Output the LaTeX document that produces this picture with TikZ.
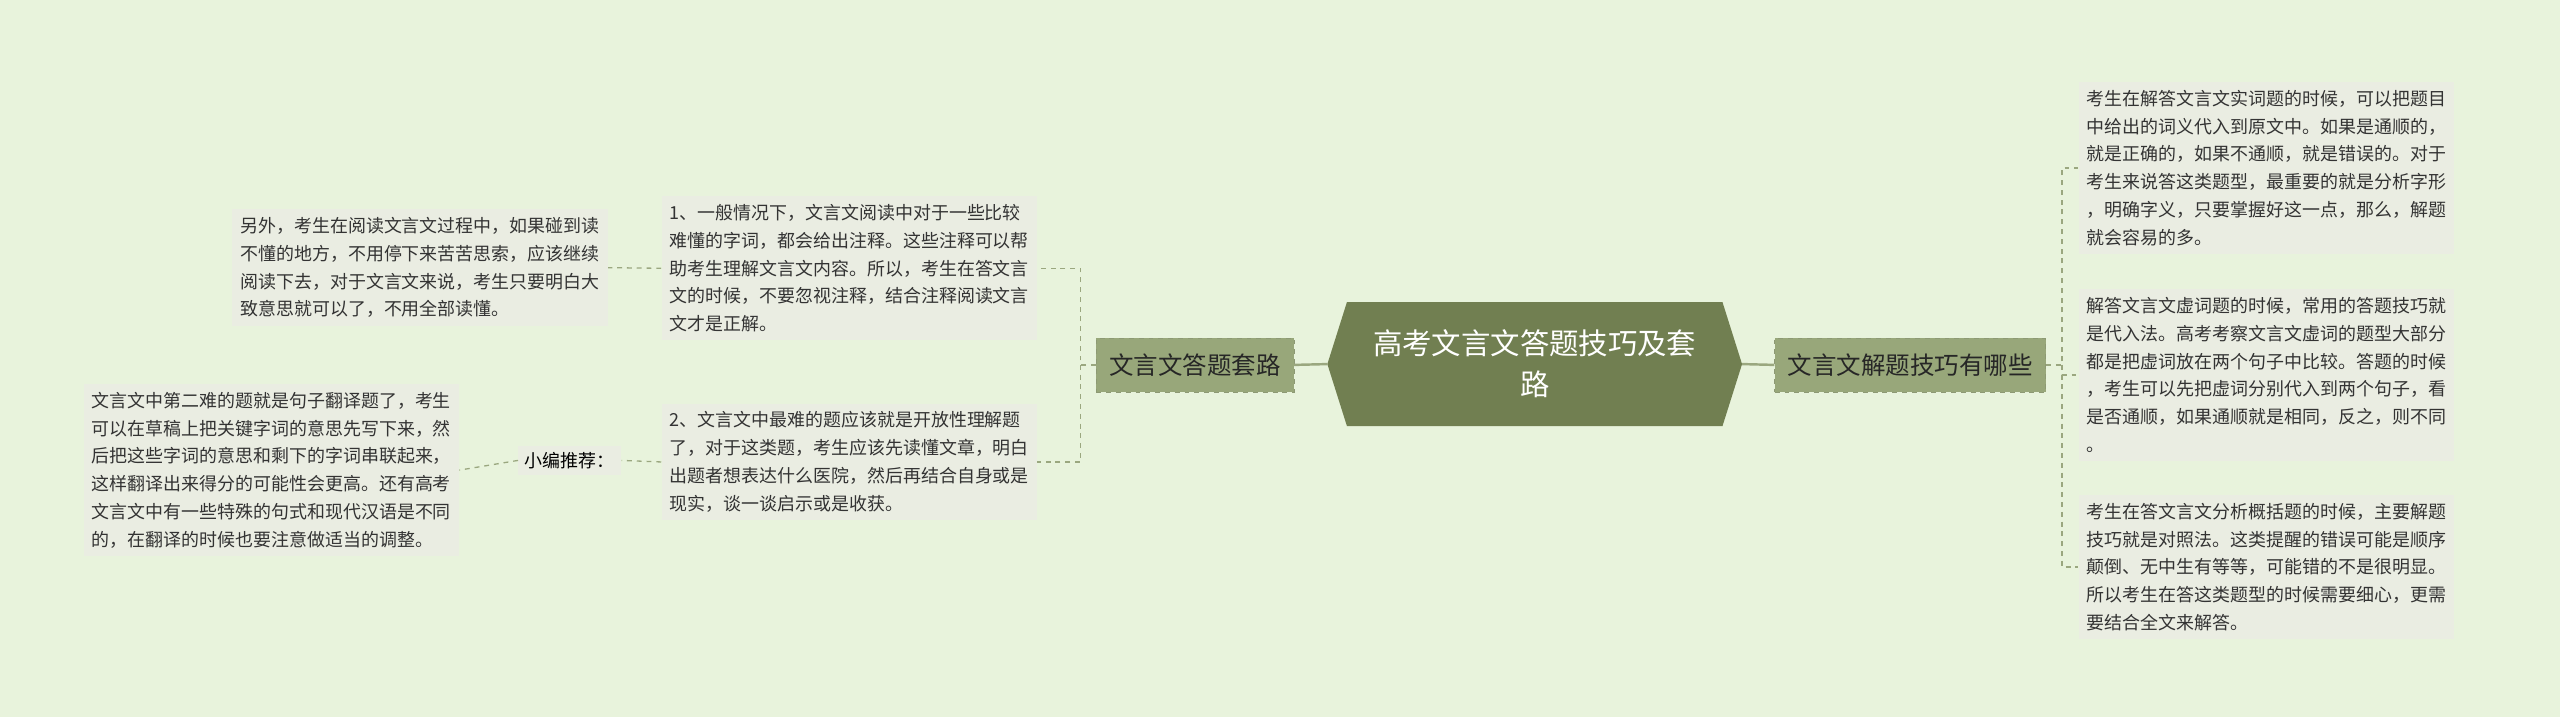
\documentclass[tikz,border=0pt]{standalone}
\usepackage{fontspec}
\setmainfont{Noto Sans CJK SC}
\usetikzlibrary{shapes.geometric}
\definecolor{bg}{HTML}{E8F3DC}
\definecolor{main}{HTML}{717F51}
\definecolor{sub}{HTML}{98A77A}
\definecolor{leaf}{HTML}{EAEDE2}
\definecolor{ln}{HTML}{9AA77F}
\tikzset{
 leafbox/.style={fill=leaf,inner sep=5pt,align=left,font=\fontsize{11}{17}\selectfont,text=black!80,anchor=north west},
 subbox/.style={fill=sub,draw=main!80,dashed,inner xsep=8pt,minimum height=33pt,font=\fontsize{15}{17}\selectfont,text=black!85},
 conn/.style={draw=ln,line width=0.8pt,dashed},
}
\begin{document}
\begin{tikzpicture}[x=1pt,y=-1pt]
\fill[bg] (0,0) rectangle (1568,439);
\useasboundingbox (0,0) rectangle (1568,439);
\fill[main] (825,185) -- (1055,185) -- (1067,223) -- (1055,261) -- (825,261) -- (813,223) -- cycle;
\node[font=\fontsize{18}{25}\selectfont,text=white,align=center] (c) at (940,223) {高考文言文答题技巧及套\\路};
\coordinate (cl) at (813,223); \coordinate (cr) at (1067,223);
\node[subbox] (L) at (732,223.5) {文言文答题套路};
\node[subbox] (R) at (1170,223.5) {文言文解题技巧有哪些};
\draw[draw=ln,line width=1.5pt] (cl) -- (L.east);
\draw[draw=ln,line width=1.5pt] (cr) -- (R.west);
\node[leafbox] (l1) at (405,120) {1、一般情况下，文言文阅读中对于一些比较\\难懂的字词，都会给出注释。这些注释可以帮\\助考生理解文言文内容。所以，考生在答文言\\文的时候，不要忽视注释，结合注释阅读文言\\文才是正解。};
\node[leafbox] (l2) at (405,247) {2、文言文中最难的题应该就是开放性理解题\\了，对于这类题，考生应该先读懂文章，明白\\出题者想表达什么医院，然后再结合自身或是\\现实，谈一谈启示或是收获。};
\node[leafbox] (ll1) at (142,128) {另外，考生在阅读文言文过程中，如果碰到读\\不懂的地方，不用停下来苦苦思索，应该继续\\阅读下去，对于文言文来说，考生只要明白大\\致意思就可以了，不用全部读懂。};
\node[fill=leaf,font=\fontsize{11}{12}\selectfont,inner sep=4pt] (xb) at (349,282) {小编推荐：};
\node[leafbox] (ll2) at (51,235) {文言文中第二难的题就是句子翻译题了，考生\\可以在草稿上把关键字词的意思先写下来，然\\后把这些字词的意思和剩下的字词串联起来，\\这样翻译出来得分的可能性会更高。还有高考\\文言文中有一些特殊的句式和现代汉语是不同\\的，在翻译的时候也要注意做适当的调整。};
\node[leafbox] (r1) at (1273,50) {考生在解答文言文实词题的时候，可以把题目\\中给出的词义代入到原文中。如果是通顺的，\\就是正确的，如果不通顺，就是错误的。对于\\考生来说答这类题型，最重要的就是分析字形\\，明确字义，只要掌握好这一点，那么，解题\\就会容易的多。};
\node[leafbox] (r2) at (1273,177) {解答文言文虚词题的时候，常用的答题技巧就\\是代入法。高考考察文言文虚词的题型大部分\\都是把虚词放在两个句子中比较。答题的时候\\，考生可以先把虚词分别代入到两个句子，看\\是否通顺，如果通顺就是相同，反之，则不同\\。};
\node[leafbox] (r3) at (1273,303) {考生在答文言文分析概括题的时候，主要解题\\技巧就是对照法。这类提醒的错误可能是顺序\\颠倒、无中生有等等，可能错的不是很明显。\\所以考生在答这类题型的时候需要细心，更需\\要结合全文来解答。};
\draw[conn] (L.west) -- (662,223.5) |- (l1.east);
\draw[conn] (662,223.5) |- (l2.east);
\draw[conn] (l1.west) -- (ll1.east);
\draw[conn] (l2.west) -- (xb.east);
\draw[conn] (xb.west) -- (ll2.east);
\draw[conn] (R.east) -- (1263,223.5) |- (r1.west);
\draw[conn] (1263,223.5) |- (r2.west);
\draw[conn] (1263,223.5) |- (r3.west);
\end{tikzpicture}
\end{document}
